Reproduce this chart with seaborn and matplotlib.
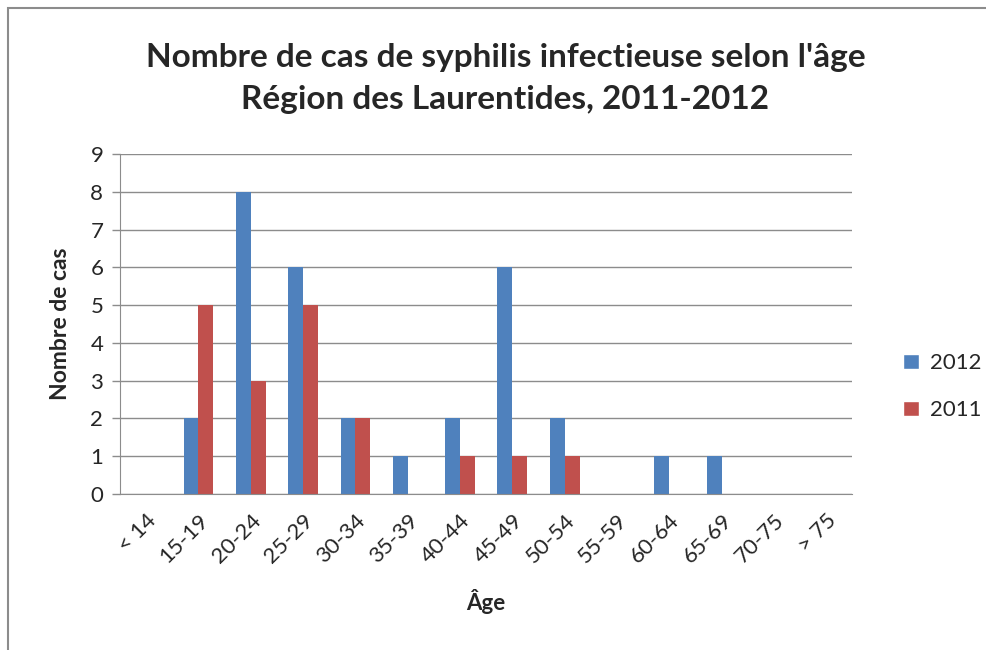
import pandas as pd
import matplotlib.pyplot as plt
import seaborn as sns
from matplotlib.patches import Rectangle, Patch

# Données
tranches_age = ["< 14", "15-19", "20-24", "25-29", "30-34", "35-39", "40-44",
                "45-49", "50-54", "55-59", "60-64", "65-69", "70-75", "> 75"]
cas_2012 = [0, 2, 8, 6, 2, 1, 2, 6, 2, 0, 1, 1, 0, 0]
cas_2011 = [0, 5, 3, 5, 2, 0, 1, 1, 1, 0, 0, 0, 0, 0]
annees = ["2012", "2011"]
couleurs = {"2012": "#4F81BD", "2011": "#C0504D"}

df = pd.DataFrame({
    "Âge": tranches_age * 2,
    "Cas": cas_2012 + cas_2011,
    "Année": ["2012"] * len(tranches_age) + ["2011"] * len(tranches_age),
})

sns.set_style("white")
plt.rcParams["font.family"] = ["Lato", "DejaVu Sans"]

fig = plt.figure(figsize=(9.87, 6.5), dpi=100)
ax = fig.add_axes([0.1216, 0.24, 0.742, 0.523])

sns.barplot(data=df, x="Âge", y="Cas", hue="Année", hue_order=annees,
            order=tranches_age, palette=couleurs, width=0.57, ax=ax,
            legend=False, saturation=1, linewidth=0)

# Axes à la manière d'Excel
ax.set_xlim(-0.5, len(tranches_age) - 0.5)
ax.set_ylim(0, 9)
ax.set_yticks(range(0, 10))
ax.yaxis.grid(True, color="#8C8C8C", linewidth=1)
ax.set_axisbelow(True)
for s in ["top", "right"]:
    ax.spines[s].set_visible(False)
ax.spines["left"].set_color("#8C8C8C")
ax.spines["bottom"].set_color("#8C8C8C")

ax.set_xticks(range(len(tranches_age)))
ax.set_xticks([i - 0.5 for i in range(len(tranches_age) + 1)], minor=True)
ax.tick_params(axis="x", which="major", length=0, pad=12)
ax.tick_params(axis="x", which="minor", length=8, color="#8C8C8C", width=1)
ax.tick_params(axis="y", length=6, color="#8C8C8C", width=1, left=True,
               labelsize=16, pad=6)
ax.set_xticklabels(tranches_age, rotation=45, ha="right",
                   rotation_mode="anchor", fontsize=16)

ax.set_xlabel("Âge", fontsize=16, fontweight="bold", labelpad=16)
ax.set_ylabel("Nombre de cas", fontsize=16.5, fontweight="bold", labelpad=14)

fig.text(0.512, 0.912, "Nombre de cas de syphilis infectieuse selon l'âge",
         ha="center", va="center", fontsize=24, fontweight="bold")
fig.text(0.512, 0.847, "Région des Laurentides, 2011-2012",
         ha="center", va="center", fontsize=24, fontweight="bold")

poignees = [Patch(facecolor=couleurs[a], label=a) for a in annees]
fig.legend(handles=poignees, loc="center left",
           bbox_to_anchor=(0.895, 0.405), frameon=False, fontsize=16,
           handlelength=0.7, handleheight=0.7, handletextpad=0.5,
           labelspacing=1.2)

# Cadre gris du graphique
fig.patches.append(Rectangle((8 / 987, -0.1), 1.2, 1.1 - 8 / 650,
                             transform=fig.transFigure, fill=False,
                             edgecolor="#8C8C8C", linewidth=1.5))

plt.savefig("out.png", dpi=100)
plt.close()
